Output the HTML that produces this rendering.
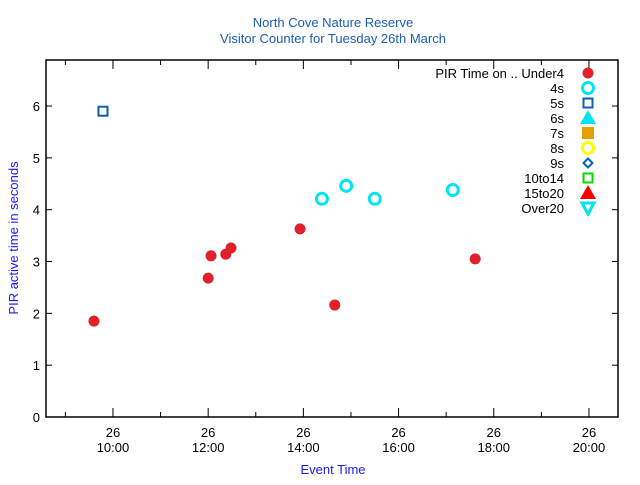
<!DOCTYPE html>
<html><head><meta charset="utf-8"><style>
body{margin:0;background:#fff;font-family:"Liberation Sans",sans-serif}
svg text{font-family:"Liberation Sans",sans-serif}
</style></head><body>
<svg id="c" width="640" height="480" xmlns="http://www.w3.org/2000/svg">
<text x="333" y="27" font-size="13" fill="#1a5fb4" text-anchor="middle">North Cove Nature Reserve</text>
<text x="333" y="43" font-size="13" fill="#1a5fb4" text-anchor="middle">Visitor Counter for Tuesday 26th March</text>
<text x="333" y="474" font-size="13" fill="#1a1aff" text-anchor="middle">Event Time</text>
<text transform="translate(18,238) rotate(-90)" font-size="13" fill="#1a1aff" text-anchor="middle">PIR active time in seconds</text>
<rect x="46" y="60" width="572" height="357" fill="none" stroke="#000" stroke-width="1.5"/>
<g id="ax"></g><g id="marks"></g><g id="legend"></g>
</svg>
<script>
const yTicks=[0,1,2,3,4,5,6];
const xMajor=[10,12,14,16,18,20];
const xTickLabels=["10:00","12:00","14:00","16:00","18:00","20:00"];
const under4X=[9.60,12.00,12.06,12.37,12.48,13.93,14.66,17.61];
const under4Y=[1.85,2.68,3.11,3.14,3.26,3.63,2.16,3.05];
const s4X=[14.39,14.90,15.50,17.14];
const s4Y=[4.21,4.46,4.21,4.38];
const s5X=[9.79];
const s5Y=[5.90];
const legendLabels=["PIR Time on .. Under4","4s","5s","6s","7s","8s","9s","10to14","15to20","Over20"];
const L=46,R=618,T=60,B=417,xmin=8.593,xmax=20.61,ymin=0,ymax=6.888;
const sx=h=>L+(h-xmin)/(xmax-xmin)*(R-L);
const sy=v=>B-(v-ymin)/(ymax-ymin)*(B-T);
const NS="http://www.w3.org/2000/svg";
function mk(tag,at,parent){const e=document.createElementNS(NS,tag);for(const k in at)e.setAttribute(k,at[k]);document.getElementById(parent).appendChild(e);return e;}
yTicks.forEach(v=>{const y=sy(v);
 let t=mk('line',{x1:L,x2:L+6,y1:y,y2:y,stroke:'#000'},'ax');
 t=mk('line',{x1:R,x2:R-6,y1:y,y2:y,stroke:'#000'},'ax');
 const tx=mk('text',{x:L-6,y:y+5,'font-size':13,'text-anchor':'end',fill:'#000'},'ax');tx.textContent=v;
 });
for(let h=9;h<=20;h++){const x=sx(h);const len=(h%2===0)?9:5;
 let t=mk('line',{x1:x,x2:x,y1:B,y2:B-len,stroke:'#000'},'ax');
 t=mk('line',{x1:x,x2:x,y1:T,y2:T+len,stroke:'#000'},'ax');}
xMajor.forEach((h,i)=>{const x=sx(h);
 let a=mk('text',{x:x,y:437,'font-size':13,'text-anchor':'middle',fill:'#000'},'ax');a.textContent='26';
 
 let b=mk('text',{x:x,y:452,'font-size':13,'text-anchor':'middle',fill:'#000'},'ax');b.textContent=xTickLabels[i];
 });
under4X.forEach((h,i)=>{const p=mk('circle',{cx:sx(h),cy:sy(under4Y[i]),r:5.5,fill:'#e0202a'},'marks');
 });
s4X.forEach((h,i)=>{const p=mk('circle',{cx:sx(h),cy:sy(s4Y[i]),r:5.5,fill:'none',stroke:'#00e5ee','stroke-width':3},'marks');
 });
s5X.forEach((h,i)=>{const p=mk('rect',{x:sx(h)-4.5,y:sy(s5Y[i])-4.5,width:9,height:9,fill:'none',stroke:'#0a5fb0','stroke-width':2},'marks');
 });
const lx=588;
legendLabels.forEach((lab,i)=>{const y=73+i*15;
 const t=mk('text',{x:564,y:y+5,'font-size':13,'text-anchor':'end',fill:'#000'},'legend');t.textContent=lab;
 
 let m;
 if(i===0)m=mk('circle',{cx:lx,cy:y,r:5.5,fill:'#e0202a'},'legend');
 else if(i===1)m=mk('circle',{cx:lx,cy:y,r:5.5,fill:'none',stroke:'#00e5ee','stroke-width':3},'legend');
 else if(i===2)m=mk('rect',{x:lx-4.5,y:y-4.5,width:9,height:9,fill:'none',stroke:'#0a5fb0','stroke-width':2},'legend');
 else if(i===3)m=mk('polygon',{points:`${lx},${y-8} ${lx+8},${y+6} ${lx-8},${y+6}`,fill:'#00e5ee'},'legend');
 else if(i===4)m=mk('rect',{x:lx-6,y:y-6,width:12,height:12,fill:'#e69f00'},'legend');
 else if(i===5)m=mk('circle',{cx:lx,cy:y,r:5.5,fill:'none',stroke:'#ffff00','stroke-width':3},'legend');
 else if(i===6)m=mk('polygon',{points:`${lx},${y-4.5} ${lx+4.5},${y} ${lx},${y+4.5} ${lx-4.5},${y}`,fill:'none',stroke:'#0a5fb0','stroke-width':2},'legend');
 else if(i===7)m=mk('rect',{x:lx-4.5,y:y-4.5,width:9,height:9,fill:'none',stroke:'#00dd00','stroke-width':2},'legend');
 else if(i===8)m=mk('polygon',{points:`${lx},${y-8} ${lx+8},${y+6} ${lx-8},${y+6}`,fill:'#ff0000'},'legend');
 else m=mk('polygon',{points:`${lx-6},${y-5} ${lx+6},${y-5} ${lx},${y+6}`,fill:'none',stroke:'#00e5ee','stroke-width':3},'legend');
 });
</script>
</body></html>
